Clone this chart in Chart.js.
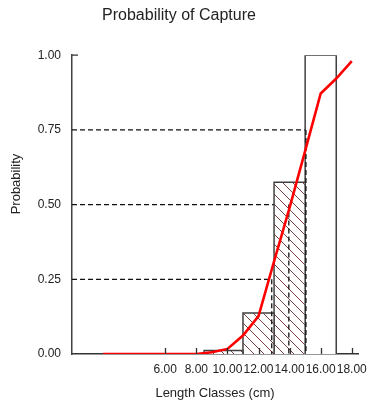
<!DOCTYPE html>
<html>
<head>
<meta charset="utf-8">
<script src="https://cdn.jsdelivr.net/npm/chart.js@4/dist/chart.umd.min.js"></script>
<style>
  html, body { margin: 0; padding: 0; background: #ffffff; }
  #wrap { width: 388px; height: 413px; }
</style>
</head>
<body>
<div id="wrap"><canvas id="c" width="388" height="413"></canvas></div>
<script>
// Logistic selection curve: probability of capture per length (cm)
const lengthClasses = [2, 3, 4, 5, 6, 7, 8, 9, 10, 11, 12, 13, 14, 15, 16, 17, 18];
const captureProb   = [0, 0, 0, 0, 0, 0, 0, 0.006, 0.017, 0.062, 0.127, 0.31, 0.49, 0.68, 0.872, 0.922, 0.98];

// Observed proportions per length class (histogram bins)
const binStart  = [8.5, 11, 13, 15];
const binEnd    = [11, 13, 15, 17];
const binProb   = [0.012, 0.137, 0.575, 1.0];
const binHatch  = [true, true, true, false];

// Selection lengths L25, L50, L75
const selLevels  = [0.25, 0.5, 0.75];
const selLengths = [12.85, 13.95, 15.05];

// Axis ticks
const yTicks = [0, 0.25, 0.5, 0.75, 1.0];
const xTickLabels = [6, 8, 10, 12, 14, 16, 18];

const FONT = '"Liberation Sans", Arial, Helvetica, sans-serif';

// Diagonal hatch fill on a white background
function makeHatch(color) {
  const s = 10;
  const cv = document.createElement('canvas');
  cv.width = s; cv.height = s;
  const g = cv.getContext('2d');
  g.fillStyle = '#ffffff';
  g.fillRect(0, 0, s, s);
  g.strokeStyle = color;
  g.lineWidth = 1;
  g.beginPath();
  for (const k of [-s, 0, s]) {
    g.moveTo(k, 0);
    g.lineTo(k + s, s);
  }
  g.stroke();
  return g.createPattern(cv, 'repeat');
}
const hatch = makeHatch('#7a4242');

const datasets = [];

// fitted curve (drawn on top)
datasets.push({
  label: 'curve',
  data: lengthClasses.map((x, i) => ({ x, y: captureProb[i] })),
  borderColor: '#ff0000',
  borderWidth: 2.6,
  pointRadius: 0,
  fill: false,
  tension: 0
});

// vertical drops from the selection lengths
selLengths.forEach((L, i) => {
  datasets.push({
    label: 'drop' + i,
    data: [{ x: L, y: selLevels[i] }, { x: L, y: 0 }],
    borderColor: '#111111',
    borderWidth: 1.3,
    borderDash: [5, 3],
    pointRadius: 0,
    fill: false
  });
});

// histogram bars as closed outlines filled to zero
binStart.forEach((x0, i) => {
  const x1 = binEnd[i], h = binProb[i];
  datasets.push({
    label: 'bin' + i,
    data: [{ x: x0, y: 0 }, { x: x0, y: h }, { x: x1, y: h }, { x: x1, y: 0 }],
    borderColor: '#404040',
    borderWidth: 1.5,
    backgroundColor: binHatch[i] ? hatch : '#ffffff',
    pointRadius: 0,
    fill: 'origin',
    tension: 0
  });
});

// horizontal guides from the axis to the selection lengths (underneath bars)
selLengths.forEach((L, i) => {
  datasets.push({
    label: 'guide' + i,
    data: [{ x: 0, y: selLevels[i] }, { x: L, y: selLevels[i] }],
    borderColor: '#111111',
    borderWidth: 1.3,
    borderDash: [5, 3],
    pointRadius: 0,
    fill: false
  });
});

// small inward tick marks and the rotated y title
const axisDecor = {
  id: 'axisDecor',
  afterDatasetsDraw(chart) {
    const ctx = chart.ctx;
    const xs = chart.scales.x, ys = chart.scales.y;
    const y0 = ys.getPixelForValue(0);
    ctx.save();
    ctx.strokeStyle = '#333333';
    ctx.lineWidth = 1.3;
    ctx.beginPath();
    xTickLabels.forEach(v => {
      const px = Math.round(xs.getPixelForValue(v)) + 0.5;
      ctx.moveTo(px, y0);
      ctx.lineTo(px, y0 - 6);
    });
    const yTop = ys.getPixelForValue(1);
    ctx.moveTo(xs.left, yTop);
    ctx.lineTo(xs.left + 6, yTop);
    ctx.stroke();
    ctx.restore();
  },
  afterDraw(chart) {
    const ctx = chart.ctx;
    ctx.save();
    ctx.translate(16, 184);
    ctx.rotate(-Math.PI / 2);
    ctx.font = '13px ' + FONT;
    ctx.fillStyle = '#222222';
    ctx.textAlign = 'center';
    ctx.textBaseline = 'middle';
    ctx.fillText('Probability', 0, 0);
    ctx.restore();
  }
};

new Chart(document.getElementById('c'), {
  type: 'line',
  data: { datasets },
  options: {
    responsive: false,
    animation: false,
    events: [],
    layout: { padding: { left: 0, right: 30, top: 0, bottom: 0 } },
    plugins: {
      legend: { display: false },
      tooltip: { enabled: false },
      title: {
        display: true,
        text: 'Probability of Capture',
        color: '#222222',
        font: { family: FONT, size: 16, weight: 'normal' },
        padding: { top: 6, bottom: 30 }
      }
    },
    scales: {
      x: {
        type: 'linear',
        min: 0,
        max: 18.4,
        grid: { display: false },
        border: { display: true, color: '#333333', width: 1.5 },
        ticks: {
          stepSize: 2,
          includeBounds: false,
          autoSkip: false,
          maxRotation: 0,
          padding: 0,
          color: '#222222',
          font: { family: FONT, size: 12 },
          callback: v => (xTickLabels.includes(v) ? v.toFixed(2) : '')
        },
        title: {
          display: true,
          text: 'Length Classes (cm)',
          color: '#222222',
          font: { family: FONT, size: 13 },
          padding: { top: 4, bottom: 12 }
        },
        afterFit(s) { s.height = 59; }
      },
      y: {
        type: 'linear',
        min: 0,
        max: 1,
        grid: { display: false },
        border: { display: true, color: '#404040', width: 1.5 },
        ticks: {
          stepSize: 0.25,
          padding: 3,
          color: '#222222',
          font: { family: FONT, size: 12 },
          callback: v => (yTicks.includes(v) ? v.toFixed(2) : '')
        },
        afterFit(s) { s.width = 72; }
      }
    }
  },
  plugins: [axisDecor]
});
</script>
</body>
</html>
